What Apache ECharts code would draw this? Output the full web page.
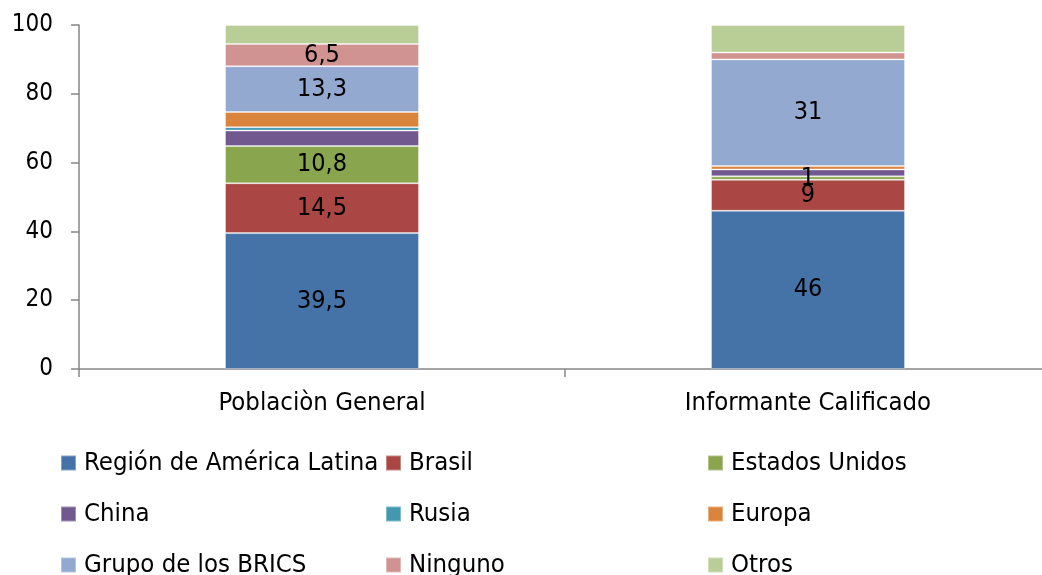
<!DOCTYPE html>
<html>
<head>
<meta charset="utf-8">
<script src="https://cdn.jsdelivr.net/npm/echarts@6/dist/echarts.min.js"></script>
<style>html,body{margin:0;padding:0;background:#fff;overflow:hidden;width:1042px;height:575px}#c{width:1051px;height:575px}</style>
</head>
<body>
<div id="c"></div>
<script>
var categories = ['Poblaciòn General', 'Informante Calificado'];
var seriesNames = ['Región de América Latina', 'Brasil', 'Estados Unidos', 'China', 'Rusia', 'Europa', 'Grupo de los BRICS', 'Ninguno', 'Otros'];
var latam   = [39.5, 46];
var brasil  = [14.5, 9];
var eeuu    = [10.8, 1];
var china   = [4.5, 2];
var rusia   = [1, 0];
var europa  = [4.4, 1];
var brics   = [13.3, 31];
var ninguno = [6.5, 2];
var otros   = [5.5, 8];
var seriesValues = [latam, brasil, eeuu, china, rusia, europa, brics, ninguno, otros];
// which data labels are shown (per series, per category)
var labelShown = [
  [true, true], [true, true], [true, true], [false, false], [false, false],
  [false, false], [true, true], [true, false], [false, false]
];
var yTicks = [0, 20, 40, 60, 80, 100];

var colors = ['#4572A7', '#AA4643', '#89A54E', '#71588F', '#4198AF', '#DB843D', '#93A9CF', '#D19392', '#B9CD96'];
var FONT = '"Liberation Sans Narrow", "DejaVu Sans Condensed", "Noto Sans", sans-serif';

var chart = echarts.init(document.getElementById('c'), null, {renderer: 'canvas'});

var series = seriesNames.map(function (name, i) {
  return {
    name: name,
    type: 'bar',
    stack: 'total',
    barWidth: 194,
    itemStyle: {color: colors[i], borderColor: 'rgba(255,255,255,0.35)', borderWidth: 1},
    label: {
      show: true,
      position: 'inside',
      color: '#000',
      fontFamily: FONT,
      fontSize: 25,
      formatter: function (p) {
        if (!labelShown[i][p.dataIndex]) return '';
        return String(p.value).replace('.', ',');
      }
    },
    emphasis: {disabled: true},
    data: seriesValues[i]
  };
});

function legendCol(names, left) {
  return {
    orient: 'vertical',
    left: left,
    top: 450,
    height: 200,
    padding: 0,
    itemWidth: 15,
    itemHeight: 15,
    itemGap: 25,
    icon: 'rect',
    selectedMode: false,
    textStyle: {fontFamily: FONT, fontSize: 25.5, color: '#000', lineHeight: 25, padding: [0, 0, 0, 3]},
    data: names
  };
}

chart.setOption({
  animation: false,
  color: colors,
  grid: {left: 79, top: 25, right: 0, height: 344, containLabel: false},
  legend: [
    legendCol([seriesNames[0], seriesNames[3], seriesNames[6]], 60),
    legendCol([seriesNames[1], seriesNames[4], seriesNames[7]], 385),
    legendCol([seriesNames[2], seriesNames[5], seriesNames[8]], 707)
  ],
  xAxis: {
    type: 'category',
    data: categories,
    axisLine: {lineStyle: {color: '#868686', width: 1.5}},
    axisTick: {show: true, length: 8, lineStyle: {color: '#868686', width: 1.5}},
    axisLabel: {fontFamily: FONT, fontSize: 25.5, color: '#000', margin: 21}
  },
  yAxis: {
    type: 'value',
    min: yTicks[0],
    max: yTicks[yTicks.length - 1],
    interval: 20,
    axisLine: {show: true, lineStyle: {color: '#868686', width: 1.5}},
    axisTick: {show: true, length: 8, lineStyle: {color: '#868686', width: 1.5}},
    splitLine: {show: false},
    axisLabel: {fontFamily: FONT, fontSize: 24, color: '#000', margin: 26}
  },
  series: series
});
</script>
</body>
</html>
